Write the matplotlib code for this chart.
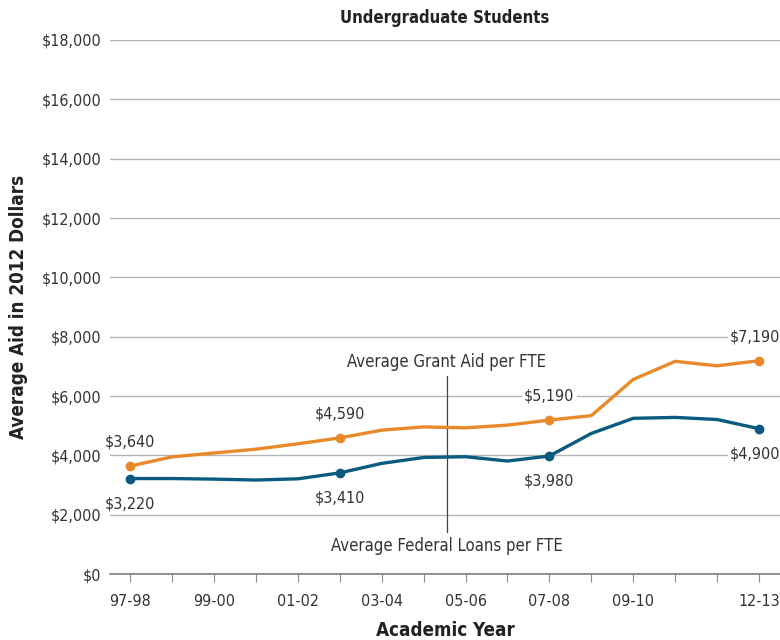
import matplotlib
matplotlib.use("Agg")
import matplotlib.pyplot as plt

plt.rcParams['font.family'] = ['DejaVu Sans']
plt.rcParams['font.stretch'] = 'condensed'

# données
years = ['97-98', '98-99', '99-00', '00-01', '01-02', '02-03', '03-04', '04-05',
         '05-06', '06-07', '07-08', '08-09', '09-10', '10-11', '11-12', '12-13']
grant = [3640, 3950, 4080, 4210, 4390, 4590, 4850, 4960,
         4930, 5020, 5190, 5340, 6560, 7170, 7020, 7190]
loans = [3220, 3220, 3200, 3170, 3210, 3410, 3730, 3930,
         3955, 3810, 3980, 4740, 5250, 5280, 5210, 4900]
labeled = [0, 5, 10, 15]
shown_ticks = ['97-98', '99-00', '01-02', '03-04', '05-06', '07-08', '09-10', '12-13']

orange = '#E8892A'
blue = '#0B5A80'
txt = '#333333'

fig = plt.figure(figsize=(7.8, 6.4), dpi=100)
ax = fig.add_axes([0.141, 0.103, 0.859, 0.8345])

x = list(range(len(years)))
ax.plot(x, grant, color=orange, lw=2.4, zorder=3)
ax.plot(x, loans, color=blue, lw=2.4, zorder=3)
ax.plot(labeled, [grant[i] for i in labeled], 'o', color=orange, ms=6, zorder=4)
ax.plot(labeled, [loans[i] for i in labeled], 'o', color=blue, ms=6, zorder=4)

# étiquettes de valeurs (la dernière un peu décalée à gauche pour rester dans l'image)
box = dict(fc='white', ec='none', pad=1.5)
for i in labeled:
    dx = -3 if i == labeled[-1] else 0
    ax.annotate(f"${grant[i]:,}", (i, grant[i]), xytext=(dx, 17), textcoords='offset points',
                ha='center', va='center', fontsize=11.5, color=txt, bbox=box, zorder=2.5)
    ax.annotate(f"${loans[i]:,}", (i, loans[i]), xytext=(dx, -18), textcoords='offset points',
                ha='center', va='center', fontsize=11.5, color=txt, bbox=box, zorder=2.5)

# légende en texte avec trait vertical
ax.plot([7.55, 7.55], [1420, 6680], color='#444444', lw=0.9, zorder=2)
ax.text(7.55, 7150, 'Average Grant Aid per FTE', ha='center', va='center',
        fontsize=12, color=txt)
ax.text(7.55, 950, 'Average Federal Loans per FTE', ha='center', va='center',
        fontsize=12, color=txt)

ax.set_xlim(-0.48, 15.5)
ax.set_ylim(0, 18000)
ax.set_yticks(range(0, 18001, 2000))
ax.set_yticklabels([f"${v:,}" for v in range(0, 18001, 2000)])
ax.set_xticks(x)
ax.set_xticklabels([y if y in shown_ticks else '' for y in years])
ax.grid(axis='y', color='#b5b5b5', lw=1, zorder=0)
ax.set_axisbelow(True)

for s in ['top', 'right', 'left']:
    ax.spines[s].set_visible(False)
ax.spines['bottom'].set_color('#8a8a8a')
ax.spines['bottom'].set_linewidth(1.3)
ax.tick_params(axis='y', length=0, pad=6, labelsize=11.5, labelcolor=txt)
ax.tick_params(axis='x', direction='out', length=6, color='#8a8a8a', pad=8,
               labelsize=11.5, labelcolor=txt)

ax.set_title('Undergraduate Students', fontsize=12, fontweight='bold', color='#222222', pad=12)
ax.set_xlabel('Academic Year', fontsize=13.5, fontweight='bold', color='#222222', labelpad=9)
ax.set_ylabel('Average Aid in 2012 Dollars', fontsize=13.5, fontweight='bold', color='#222222')
ax.yaxis.set_label_coords(-0.122, 0.5)

fig.savefig('out.png', dpi=100)
